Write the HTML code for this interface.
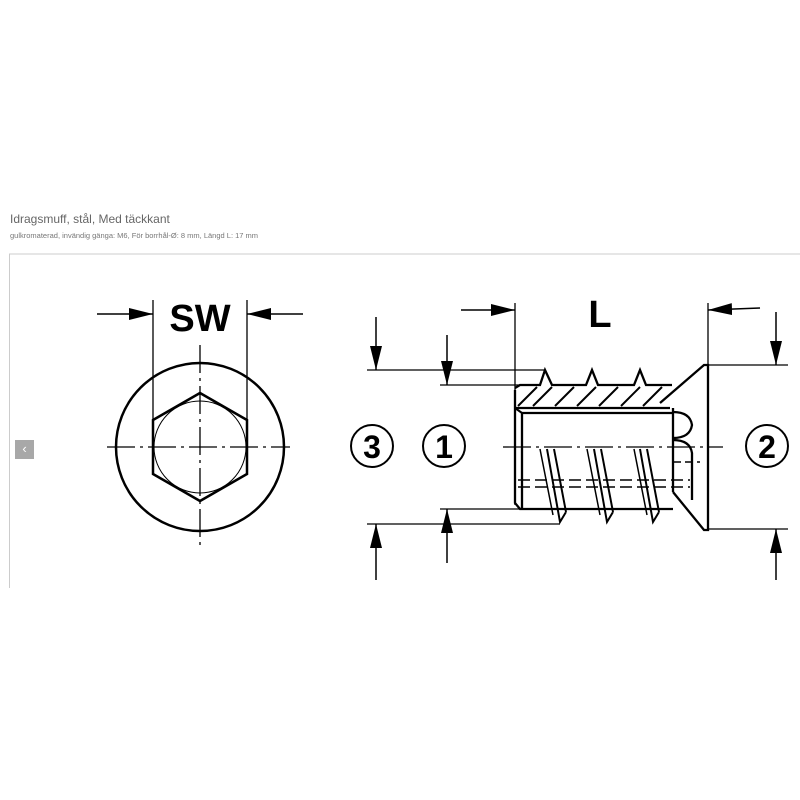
<!DOCTYPE html>
<html><head><meta charset="utf-8"><style>
body{margin:0;background:#fff;width:800px;height:800px;overflow:hidden;font-family:"Liberation Sans",sans-serif;}
.t{position:absolute;left:10px;top:212px;font-size:12px;color:#666;}
.s{position:absolute;left:10px;top:231px;font-size:7.5px;color:#777;}
.btn{position:absolute;left:15px;top:440px;width:19px;height:19px;background:#a8a8a8;color:#fff;font-size:13px;line-height:18px;text-align:center;}
svg{position:absolute;left:0;top:0;}
</style></head><body>
<div class="t">Idragsmuff, stål, Med täckkant</div>
<div class="s">gulkromaterad, invändig gänga: M6, För borrhål-Ø: 8 mm, Längd L: 17 mm</div>
<svg width="800" height="800" viewBox="0 0 800 800">
<defs><marker id="a" markerWidth="10" markerHeight="8" refX="10" refY="4" orient="auto" markerUnits="userSpaceOnUse"><path d="M0,0 L10,4 L0,8 Z" fill="#000"/></marker>
<marker id="b" markerWidth="24" markerHeight="12" refX="24" refY="6" orient="auto" markerUnits="userSpaceOnUse"><path d="M0,0 L24,6 L0,12 Z" fill="#000"/></marker></defs>
<line x1="9" y1="254" x2="800" y2="254" stroke="#ccc"/>
<line x1="9.5" y1="254" x2="9.5" y2="588" stroke="#ccc"/>
<g stroke="#000" fill="none">
<!-- left view -->
<circle cx="200" cy="447" r="84" stroke-width="2.5"/>
<polygon points="200,393 247,420 247,474 200,501 153,474 153,420" stroke-width="2.5"/>
<circle cx="200" cy="447" r="46" stroke-width="1"/>
<line x1="153" y1="300" x2="153" y2="474" stroke-width="1.3"/>
<line x1="247" y1="300" x2="247" y2="474" stroke-width="1.3"/>
<line x1="97" y1="314" x2="153" y2="314" stroke-width="1.5" marker-end="url(#b)"/>
<line x1="303" y1="314" x2="247" y2="314" stroke-width="1.5" marker-end="url(#b)"/>
<line x1="107" y1="447" x2="290" y2="447" stroke-width="1.3" stroke-dasharray="28,5,3,5"/>
<line x1="200" y1="345" x2="200" y2="545" stroke-width="1.3" stroke-dasharray="28,5,3,5"/>
<!-- right view dims -->
<line x1="515" y1="303" x2="515" y2="505" stroke-width="1.3"/>
<line x1="708" y1="303" x2="708" y2="530" stroke-width="1.3"/>
<line x1="461" y1="310" x2="515" y2="310" stroke-width="1.5" marker-end="url(#b)"/>
<line x1="760" y1="308" x2="708" y2="310" stroke-width="1.5" marker-end="url(#b)"/>
<line x1="367" y1="370" x2="545" y2="370" stroke-width="1.3"/>
<line x1="440" y1="385" x2="520" y2="385" stroke-width="1.3"/>
<line x1="440" y1="509" x2="522" y2="509" stroke-width="1.3"/>
<line x1="367" y1="524" x2="560" y2="524" stroke-width="1.3"/>
<line x1="376" y1="317" x2="376" y2="370" stroke-width="1.5" marker-end="url(#b)"/>
<line x1="447" y1="335" x2="447" y2="385" stroke-width="1.5" marker-end="url(#b)"/>
<line x1="376" y1="580" x2="376" y2="524" stroke-width="1.5" marker-end="url(#b)"/>
<line x1="447" y1="563" x2="447" y2="509" stroke-width="1.5" marker-end="url(#b)"/>
<line x1="708" y1="365" x2="788" y2="365" stroke-width="1.3"/>
<line x1="708" y1="529" x2="788" y2="529" stroke-width="1.3"/>
<line x1="776" y1="312" x2="776" y2="365" stroke-width="1.5" marker-end="url(#b)"/>
<line x1="776" y1="580" x2="776" y2="529" stroke-width="1.5" marker-end="url(#b)"/>
<line x1="503" y1="447" x2="723" y2="447" stroke-width="1.3" stroke-dasharray="28,5,3,5"/>
<!-- body -->
<g stroke-width="2.3">
<path d="M515,390 L515,503 L520,509 L673,509"/>
<line x1="522" y1="413" x2="522" y2="509"/>
<path d="M515,388 L520,385 L540,385 L545,370 L552,385 L586,385 L592,370 L598,385 L634,385 L640,370 L646,385 L672,385"/>
<line x1="515" y1="408" x2="670" y2="408"/>
<line x1="522" y1="413" x2="673" y2="413"/>
<path d="M660,403 L704,365 L708,365 L708,530 L704,530 L673,492"/>
<line x1="673" y1="408" x2="673" y2="492"/>
<path d="M673,412 Q690,412 692,425 Q690,438 673,438"/>
<path d="M673,440 Q690,440 692,453 L692,500"/>
<!-- hatch -->
<path d="M518,406 L537,387 M533,406 L552,387 M555,406 L574,387 M577,406 L596,387 M599,406 L618,387 M621,406 L640,387 M643,406 L662,387 M515,408 L522,413" stroke-width="2"/>
<!-- bottom threads -->
<path d="M547,449 L560,522 L566,512 M554,449 L566,512 M594,449 L607,522 L613,512 M601,449 L613,512 M640,449 L653,522 L659,512 M647,449 L659,512" stroke-width="2"/>
<path d="M540,449 L553,515 M587,449 L600,515 M634,449 L647,515" stroke-width="1.5"/>
<line x1="518" y1="480" x2="690" y2="480" stroke-width="1.5" stroke-dasharray="12,5"/>
<line x1="518" y1="487" x2="690" y2="487" stroke-width="1.5" stroke-dasharray="12,5"/>
<line x1="673" y1="462" x2="700" y2="462" stroke-width="1.5" stroke-dasharray="8,4"/>
</g>
<circle cx="372" cy="446" r="21" stroke-width="2"/>
<circle cx="444" cy="446" r="21" stroke-width="2"/>
<circle cx="767" cy="446" r="21" stroke-width="2"/>
</g>
<g font-family="Liberation Sans, sans-serif" font-weight="bold" text-anchor="middle" fill="#000">
<text x="200" y="331" font-size="38">SW</text>
<text x="600" y="327" font-size="38">L</text>
<text x="372" y="458" font-size="32">3</text>
<text x="444" y="458" font-size="32">1</text>
<text x="767" y="458" font-size="32">2</text>
</g>
</svg>
<div class="btn">‹</div>
</body></html>
